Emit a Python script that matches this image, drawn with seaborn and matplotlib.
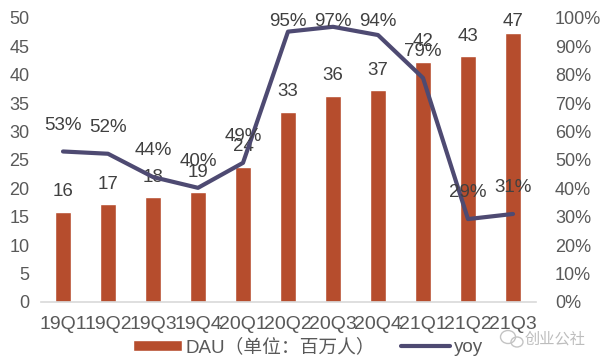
import matplotlib
matplotlib.use("Agg")
import matplotlib.pyplot as plt
from matplotlib.patches import Ellipse
import numpy as np
import pandas as pd
import seaborn as sns

quarters = ["19Q1", "19Q2", "19Q3", "19Q4", "20Q1", "20Q2", "20Q3", "20Q4", "21Q1", "21Q2", "21Q3"]
dau = [15.9, 17.2, 18.5, 19.3, 23.8, 33.5, 36.3, 37.3, 42.3, 43.3, 47.4]
yoy = [0.53, 0.522, 0.44, 0.402, 0.49, 0.952, 0.969, 0.94, 0.789, 0.292, 0.31]

BAR = "#B64D2D"
LINE = "#4E4A72"
TEXT = "#595959"
LABEL = "#404040"
AXIS = "#D9D9D9"

sns.set_theme(style="white")
plt.rcParams["font.family"] = ["Liberation Sans", "Noto Sans CJK SC", "DejaVu Sans"]

W, H = 600, 363
fig = plt.figure(figsize=(W / 100, H / 100), dpi=100)
ax = fig.add_axes([40.5 / W, 1 - 302 / H, 495 / W, 284 / H])
df = pd.DataFrame({"quarter": quarters, "dau": dau, "yoy": yoy})

sns.barplot(data=df, x="quarter", y="dau", color=BAR, saturation=1, width=0.345, ax=ax, label="DAU（单位：百万人）")
ax.set_xlim(-0.5, len(quarters) - 0.5)
ax.set_ylim(0, 50)
ax.set_yticks(np.arange(0, 51, 5))
ax.set_xlabel("")
ax.set_ylabel("")
ax.tick_params(axis="y", length=0, labelsize=13, labelcolor=TEXT, pad=8)
ax.tick_params(axis="x", which="major", length=0, labelsize=14, labelcolor=TEXT, pad=10)
ax.set_xticks(np.arange(-0.5, len(quarters)), minor=True)
ax.tick_params(axis="x", which="minor", direction="in", length=4, width=1, color=AXIS)
for side in ["top", "left", "right"]:
    ax.spines[side].set_visible(False)
ax.spines["bottom"].set_color(AXIS)
ax.spines["bottom"].set_linewidth(1.2)
ax.get_legend().remove() if ax.get_legend() else None

ax2 = ax.twinx()
sns.lineplot(data=df, x="quarter", y="yoy", color=LINE, linewidth=3.0, ax=ax2, sort=False, label="yoy", legend=False)
ax2.set_ylim(0, 1)
ax2.set_yticks(np.arange(0, 1.01, 0.1))
ax2.set_yticklabels([f"{v}%" for v in range(0, 101, 10)])
ax2.set_ylabel("")
ax2.tick_params(axis="y", length=0, labelsize=13, labelcolor=TEXT, pad=14)
for side in ["top", "left", "right", "bottom"]:
    ax2.spines[side].set_visible(False)
ax2.grid(False)
ax.grid(False)

for i, v in enumerate(dau):
    ax.annotate(f"{round(v - 0.3)}", (i, min(v + 3.5, 49.3)), ha="center", va="center",
                fontsize=13.5, color=LABEL, annotation_clip=False)
for i, v in enumerate(yoy):
    ax2.annotate(f"{round(v * 100)}%", (i, min(v + 0.092, 0.986)), ha="center", va="center",
                 fontsize=13.5, color=LABEL, annotation_clip=False)

h1, l1 = ax.get_legend_handles_labels()
h2, l2 = ax2.get_legend_handles_labels()
leg = fig.legend(h1 + h2, l1 + l2, loc="center", bbox_to_anchor=(308 / W, 1 - 347.5 / H), ncol=2, frameon=False,
                 fontsize=13.5, labelcolor=TEXT, handlelength=2.6, handleheight=0.55,
                 columnspacing=1.4, handletextpad=0.2, borderpad=0, borderaxespad=0)

fig.text(555 / W, 1 - 339 / H, "创业公社", ha="center", va="center", fontsize=11, color="#BDBDBD")
for cx, cy, w, h in [(508, 337, 15, 13), (517, 342, 12, 10)]:
    fig.add_artist(Ellipse((cx / W, 1 - cy / H), w / W, h / H, transform=fig.transFigure,
                           fill=False, edgecolor="#C4C4C4", linewidth=1))

fig.savefig("out.png", dpi=100)
